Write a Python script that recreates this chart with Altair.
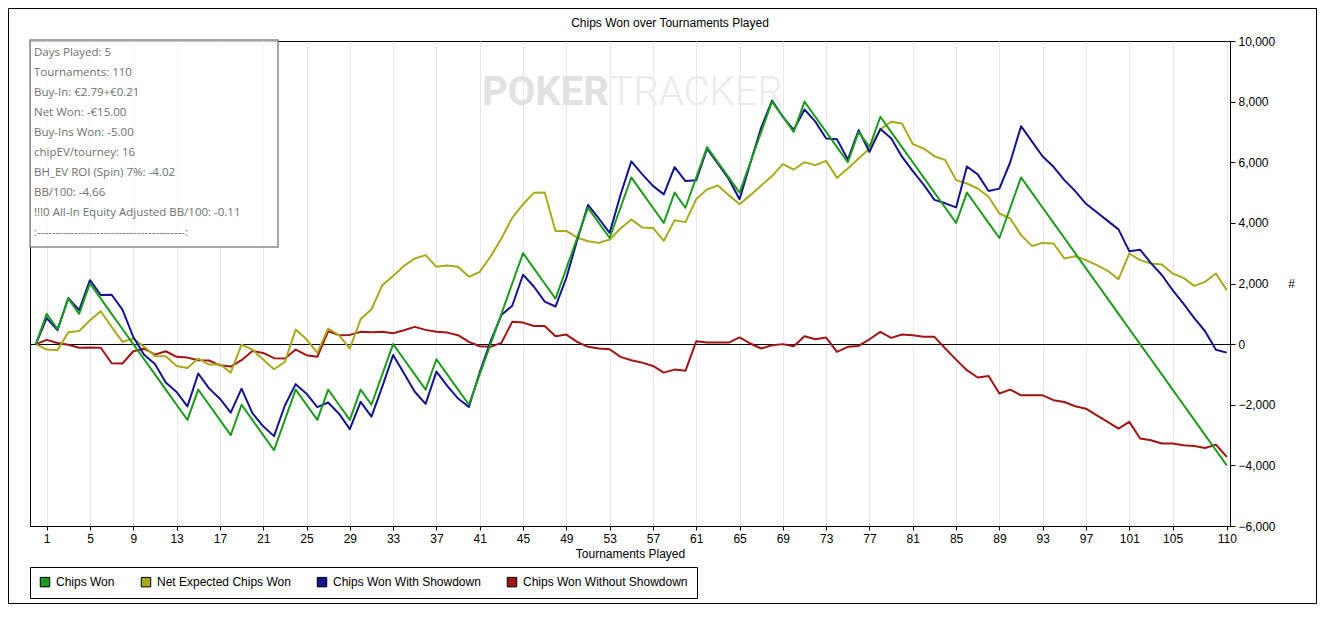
import altair as alt
import pandas as pd

# ---------------- data ----------------
tournaments = list(range(0, 111))

chips_won = [0, 1000, 500, 1500, 1000, 2000, 1500, 1000, 500, 0,
             -500, -1000, -1500, -2000, -2500, -1500, -2000, -2500, -3000, -2000,
             -2500, -3000, -3500, -2500, -1500, -2000, -2500, -1500, -2000, -2500,
             -1500, -2000, -1000, 0, -500, -1000, -1500, -500, -1000, -1500,
             -2000, -1000, 0, 1000, 2000, 3000, 2500, 2000, 1500, 2500,
             3500, 4500, 4000, 3500, 4500, 5500, 5000, 4500, 4000, 5000,
             4500, 5500, 6500, 6000, 5500, 5000, 6000, 7000, 8000, 7500,
             7000, 8000, 7500, 7000, 6500, 6000, 7000, 6500, 7500, 7000,
             6500, 6000, 5500, 5000, 4500, 4000, 5000, 4500, 4000, 3500,
             4500, 5500, 5000, 4500, 4000, 3500, 3000, 2500, 2000, 1500,
             1000, 500, 0, -500, -1000, -1500, -2000, -2500, -3000, -3500,
             -4000]

net_expected = [0, -180, -200, 390, 435, 790, 1085, 570, 75, 185,
                -90, -390, -400, -720, -785, -475, -675, -665, -940, -15,
                -180, -510, -830, -590, 480, 160, -290, 515, 295, -145,
                820, 1150, 1945, 2250, 2580, 2825, 2935, 2550, 2590, 2550,
                2220, 2385, 2890, 3485, 4165, 4615, 4990, 5000, 3735, 3735,
                3515, 3395, 3340, 3450, 3815, 4110, 3850, 3835, 3405, 4090,
                4025, 4785, 5105, 5235, 4915, 4615, 4915, 5235, 5550, 5940,
                5760, 6000, 5905, 6045, 5485, 5795, 6125, 6455, 7085, 7335,
                7280, 6600, 6455, 6200, 6070, 5410, 5300, 5135, 4860, 4310,
                4145, 3595, 3240, 3340, 3320, 2825, 2900, 2770, 2605, 2420,
                2145, 2990, 2770, 2660, 2625, 2330, 2185, 1920, 2055, 2330,
                1780]

with_showdown = [0, 860, 460, 1520, 1120, 2110, 1620, 1630, 1140, 235,
                 -350, -655, -1265, -1580, -2055, -970, -1460, -1800, -2260, -1470,
                 -2275, -2710, -3035, -2025, -1320, -1635, -2080, -1925, -2295, -2805,
                 -1905, -2390, -1405, -360, -960, -1570, -1970, -905, -1380, -1795,
                 -2075, -930, 90, 960, 1265, 2290, 1900, 1400, 1240, 2185,
                 3425, 4590, 4145, 3670, 4920, 6030, 5610, 5220, 4940, 5840,
                 5380, 5405, 6450, 5950, 5450, 4780, 5980, 7145, 8035, 7500,
                 7070, 7740, 7340, 6785, 6755, 6090, 7060, 6340, 7095, 6795,
                 6185, 5705, 5260, 4760, 4645, 4510, 5860, 5600, 5050, 5130,
                 6000, 7190, 6690, 6190, 5850, 5410, 5050, 4630, 4350, 4065,
                 3785, 3065, 3115, 2670, 2280, 1780, 1335, 860, 425, -185,
                 -280]

without_showdown = [0, 140, 40, -20, -120, -110, -120, -630, -640, -235,
                    -150, -345, -235, -420, -445, -530, -540, -700, -740, -530,
                    -225, -290, -465, -475, -180, -365, -420, 425, 295, 305,
                    405, 390, 405, 360, 460, 570, 470, 405, 380, 295,
                    75, -70, -90, 40, 735, 710, 600, 600, 260, 315,
                    75, -90, -145, -170, -420, -530, -610, -720, -940, -840,
                    -880, 95, 50, 50, 50, 220, 20, -145, -35, 0,
                    -70, 260, 160, 215, -255, -90, -60, 160, 405, 205,
                    315, 295, 240, 240, -145, -510, -860, -1100, -1050, -1630,
                    -1500, -1690, -1690, -1690, -1850, -1910, -2050, -2130, -2350, -2565,
                    -2785, -2565, -3115, -3170, -3280, -3280, -3335, -3360, -3425, -3315,
                    -3720]

series_names = ["Chips Won", "Net Expected Chips Won",
                "Chips Won With Showdown", "Chips Won Without Showdown"]
series_colors = ["#1e9b1e", "#a9a91e", "#14148f", "#a01414"]

x_tick_values = list(range(1, 106, 4)) + [110]
y_tick_values = list(range(-6000, 10001, 1000))

stats_lines = ["Days Played: 5",
               "Tournaments: 110",
               "Buy-In: \u20ac2.79+\u20ac0.21",
               "Net Won: -\u20ac15.00",
               "Buy-Ins Won: -5.00",
               "chipEV/tourney: 16",
               "BH_EV ROI (Spin) 7%: -4.02",
               "BB/100: -4.66",
               "!!!0 All-In Equity Adjusted BB/100: -0.11",
               ":" + "-" * 40 + ":"]

chart_title = "Chips Won over Tournaments Played"

# ---------------- long table (draw order: red, olive, blue, green) ----------------
series_values = {
    "Chips Won Without Showdown": without_showdown,
    "Net Expected Chips Won": net_expected,
    "Chips Won With Showdown": with_showdown,
    "Chips Won": chips_won,
}
rows = []
for name, vals in series_values.items():
    for t, v in zip(tournaments, vals):
        rows.append({"t": t, "v": v, "series": name})
df = pd.DataFrame(rows)
df_start = df[df["t"] == 0]

one = alt.InlineData(values=[{"k": 0}])

FONT = "Liberation Sans"
W, H = 1200, 485
PAD = {"left": 22, "top": 33, "right": 87, "bottom": 78}

x_scale = alt.Scale(domain=[-0.54, 110.3], nice=False, zero=False)
y_scale = alt.Scale(domain=[-6000, 10000], nice=False)
color_scale = alt.Scale(domain=series_names, range=series_colors)

x_enc = alt.X("t:Q", scale=x_scale,
              axis=alt.Axis(values=x_tick_values, title="Tournaments Played", tickSize=4,
                            labelPadding=3, titlePadding=4, labelFlush=False,
                            gridColor="#e8e8e8", domainColor="black", tickColor="black"))
y_enc = alt.Y("v:Q", scale=y_scale,
              axis=alt.Axis(orient="right", values=y_tick_values, format=",",
                            labelExpr="format(datum.value, ',')", tickSize=5,
                            labelPadding=3, title="#", titleAngle=0, titleX=61, titleY=242.5,
                            titleAlign="center", titleBaseline="middle",
                            gridColor="#e8e8e8", domainColor="black", tickColor="black"))

# watermark
wm1 = alt.Chart(one).mark_text(text="POKER", font="Roboto", fontWeight="bold", fontSize=40,
                               color="#e2e2e2", align="left", baseline="alphabetic").encode(
    x=alt.value(452), y=alt.value(64))
wm2 = alt.Chart(one).mark_text(text="TRACKER", font="Roboto", fontWeight=300, fontSize=40,
                               color="#ebebeb", align="right", baseline="alphabetic").encode(
    x=alt.value(753), y=alt.value(64))

zero_rule = alt.Chart(one).mark_rule(color="black", strokeWidth=1, yOffset=0.375).encode(
    y=alt.datum(0, scale=y_scale))

lines = alt.Chart(df).mark_line(strokeWidth=2, strokeJoin="round").encode(
    x=x_enc, y=y_enc,
    color=alt.Color("series:N", scale=color_scale, legend=None),
    detail="series:N",
)

# invisible filled squares that only carry the legend (filled boxes with black outline)
legend_layer = alt.Chart(df_start).mark_point(shape="square", filled=True, opacity=0).encode(
    x=alt.value(0),
    y=alt.value(0),
    color=alt.Color("series:N", scale=color_scale,
                    legend=alt.Legend(title=None, orient="none", legendX=0, legendY=526,
                                      direction="horizontal", symbolType="square",
                                      symbolSize=90, symbolOpacity=1,
                                      symbolStrokeColor="black", symbolStrokeWidth=1,
                                      strokeColor="black", fillColor="white",
                                      padding=9, columnPadding=24, labelOffset=5,
                                      labelFont=FONT, labelFontSize=12, labelColor="black",
                                      labelLimit=400)),
)

# statistics box
stats_box = alt.Chart(one).mark_rect(fill="white", fillOpacity=0.75, stroke="#8a8a8a",
                                     strokeWidth=1.5).encode(
    x=alt.value(0), x2=alt.value(248), y=alt.value(-1), y2=alt.value(206))
stats_text = alt.Chart(one).mark_text(align="left", baseline="middle", lineBreak="\n",
                                      lineHeight=20, font="Open Sans", fontSize=11.5,
                                      color="#707070").encode(
    x=alt.value(4), y=alt.value(12), text=alt.value("\n".join(stats_lines)))

title_text = alt.Chart(one).mark_text(align="center", baseline="middle", font=FONT,
                                      fontSize=12, color="black").encode(
    x=alt.value(640), y=alt.value(-18), text=alt.value(chart_title))

outer_border = alt.Chart(one).mark_rect(fill="transparent", stroke="black",
                                        strokeWidth=1).encode(
    x=alt.value(-PAD["left"] + 0.5), x2=alt.value(W + PAD["right"] - 0.5),
    y=alt.value(-PAD["top"] + 0.5), y2=alt.value(H + PAD["bottom"] - 0.5))

chart = alt.layer(
    wm1, wm2, stats_box, stats_text, zero_rule, lines, legend_layer, title_text, outer_border
).resolve_legend(
    color="independent"
).properties(
    width=W, height=H,
    padding=PAD,
    autosize=alt.AutoSizeParams(type="none"),
    background="white",
).configure_view(
    stroke="black", strokeWidth=1
).configure_axis(
    labelFont=FONT, labelFontSize=12, labelColor="black",
    titleFont=FONT, titleFontSize=12, titleFontWeight="normal", titleColor="black",
)

chart.save("out.html", embed_options={"renderer": "svg", "actions": False})
